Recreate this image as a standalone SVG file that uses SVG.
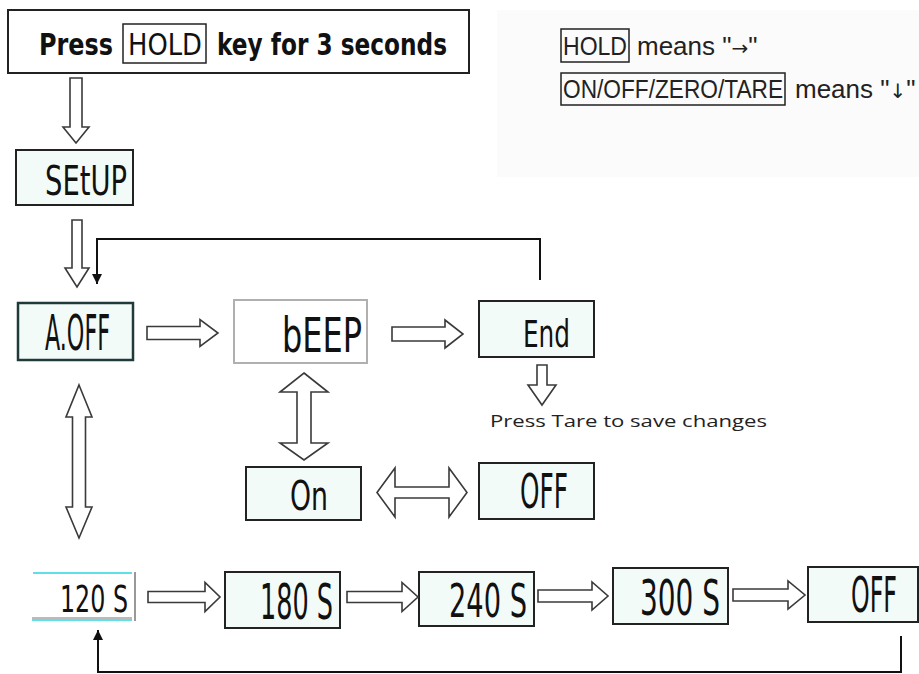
<svg xmlns="http://www.w3.org/2000/svg" width="919" height="674" viewBox="0 0 919 674">
<defs>
<style>
.box{fill:#f3fbf8;stroke:#222;stroke-width:2}
.harrow{fill:#fff;stroke:#3a3a3a;stroke-width:1.6;stroke-linejoin:miter}
.line{fill:none;stroke:#111;stroke-width:2}
.lcd{font-family:"DejaVu Sans Condensed","DejaVu Sans",sans-serif;fill:#111}
.leg{font-family:"Liberation Sans",Arial,sans-serif;font-size:26px;fill:#222}
.sym{font-family:"DejaVu Sans",sans-serif;font-size:20px;fill:#222}
.title{font-family:"DejaVu Sans",Verdana,sans-serif;font-size:30px;fill:#111}
</style>
<marker id="tri" viewBox="0 0 10 10" refX="10" refY="5" markerWidth="5" markerHeight="6" markerUnits="strokeWidth" orient="auto">
<path d="M0,0 L10,5 L0,10 Z" fill="#111"/>
</marker>
</defs>
<rect width="919" height="674" fill="#fff"/>
<rect x="497" y="10" width="422" height="167" fill="#fbfbfb"/>

<g id="title">
<rect x="8" y="10" width="461" height="63" fill="#fff" stroke="#222" stroke-width="2"/>
<rect x="123" y="24" width="83" height="39" fill="none" stroke="#222" stroke-width="1.5"/>
<text class="title" x="39" y="55" font-weight="bold" textLength="74" lengthAdjust="spacingAndGlyphs">Press</text>
<text class="title" x="128" y="55" textLength="74" lengthAdjust="spacingAndGlyphs">HOLD</text>
<text class="title" x="217" y="55" font-weight="bold" textLength="230" lengthAdjust="spacingAndGlyphs">key for 3 seconds</text>
</g>

<g id="legend">
<rect x="561" y="29" width="68" height="33" fill="none" stroke="#222" stroke-width="1.5"/>
<text class="leg" x="563" y="55" textLength="64" lengthAdjust="spacingAndGlyphs">HOLD</text>
<text class="leg" x="637" y="55">means "<tspan class="sym">→</tspan>"</text>
<rect x="561" y="73" width="224" height="32" fill="none" stroke="#222" stroke-width="1.5"/>
<text class="leg" x="563" y="98" textLength="220" lengthAdjust="spacingAndGlyphs">ON/OFF/ZERO/TARE</text>
<text class="leg" x="795" y="98">means "<tspan class="sym">↓</tspan>"</text>
</g>

<g id="setup">
<rect class="box" x="16" y="150" width="117" height="55"/>
<text class="lcd" x="45" y="195" font-size="41" textLength="82" lengthAdjust="spacingAndGlyphs">SEtUP</text>
</g>

<g id="aoff">
<rect x="18" y="303" width="115" height="57" fill="#f3fbf8" stroke="#1f3a38" stroke-width="2.5"/>
<text class="lcd" x="45" y="350" font-size="50" textLength="65" lengthAdjust="spacingAndGlyphs">A.OFF</text>
</g>

<g id="beep">
<rect x="234" y="300" width="133" height="63" fill="#fff" stroke="#b0b0b0" stroke-width="2"/>
<text class="lcd" x="282" y="352" font-size="48" textLength="80" lengthAdjust="spacingAndGlyphs">bEEP</text>
</g>

<g id="end">
<rect class="box" x="479" y="301" width="115" height="56"/>
<text class="lcd" x="523" y="347" font-size="37" textLength="47" lengthAdjust="spacingAndGlyphs">End</text>
</g>

<g id="save-note">
<text x="490" y="427" font-family="'Open Sans','DejaVu Sans',sans-serif" font-size="16" fill="#222" textLength="277" lengthAdjust="spacingAndGlyphs">Press Tare to save changes</text>
</g>

<g id="on">
<rect class="box" x="246" y="467" width="115" height="53"/>
<text class="lcd" x="290" y="510" font-size="41" textLength="38" lengthAdjust="spacingAndGlyphs">On</text>
</g>

<g id="off-beep">
<rect class="box" x="479" y="463" width="115" height="56"/>
<text class="lcd" x="520" y="508" font-size="48" textLength="48" lengthAdjust="spacingAndGlyphs">OFF</text>
</g>

<g id="t120">
<line x1="33" y1="573" x2="132" y2="573" stroke="#5fe0e8" stroke-width="2"/>
<line x1="32" y1="618" x2="132" y2="618" stroke="#777" stroke-width="1"/>
<line x1="32" y1="620" x2="132" y2="620" stroke="#5fe0e8" stroke-width="2"/>
<line x1="135" y1="572" x2="135" y2="621" stroke="#999" stroke-width="2"/>
<text class="lcd" x="60" y="612" font-size="37" textLength="68" lengthAdjust="spacingAndGlyphs">120 S</text>
</g>

<g id="t180">
<rect class="box" x="225" y="572" width="115" height="56"/>
<text class="lcd" x="260" y="619" font-size="50" textLength="73" lengthAdjust="spacingAndGlyphs">180 S</text>
</g>

<g id="t240">
<rect class="box" x="419" y="572" width="115" height="54"/>
<text class="lcd" x="449" y="617" font-size="47" textLength="78" lengthAdjust="spacingAndGlyphs">240 S</text>
</g>

<g id="t300">
<rect class="box" x="613" y="568" width="115" height="56"/>
<text class="lcd" x="640" y="615" font-size="50" textLength="80" lengthAdjust="spacingAndGlyphs">300 S</text>
</g>

<g id="off-time">
<rect class="box" x="808" y="567" width="110" height="55"/>
<text class="lcd" x="851" y="612" font-size="50" textLength="46" lengthAdjust="spacingAndGlyphs">OFF</text>
</g>

<g id="connectors">
<path class="harrow" d="M70,78 H82 V127 H89 L76,143 L63,127 H70 Z"/>
<path class="harrow" d="M72,220 H82 V268 H89 L77,287 L65,268 H72 Z"/>
<polyline class="line" points="540,280 540,239 97,239 97,284" marker-end="url(#tri)"/>
<path class="harrow" d="M147,326.5 H200 V319.5 L218,333 L200,346.5 V339.5 H147 Z"/>
<path class="harrow" d="M392,327 H445 V320 L463,334 L445,348 V341 H392 Z"/>
<path class="harrow" d="M537,365 H547 V385 H556 L542,405 L528,385 H537 Z"/>
<path class="harrow" d="M304,373 L328,392 H311 V443 H328 L304,460 L280,443 H297 V392 H280 Z"/>
<path class="harrow" d="M377,492.5 L395,468 V487 H449 V468 L467,492.5 L449,517 V498 H395 V517 Z"/>
<path class="harrow" d="M79,385 L92,417 H85.5 V507 H92 L79,538 L66,507 H72.5 V417 H66 Z"/>
<path class="harrow" d="M148,591.5 H205 V582.5 L220,597 L205,611.5 V602.5 H148 Z"/>
<path class="harrow" d="M347,591.5 H402 V582.5 L418,597 L402,611.5 V602.5 H347 Z"/>
<path class="harrow" d="M538,590 H592 V582 L608,596 L592,610 V602 H538 Z"/>
<path class="harrow" d="M733,589 H788 V581 L805,595 L788,609 V601 H733 Z"/>
<polyline class="line" points="901,636 901,672 98,672 98,630" marker-end="url(#tri)"/>
</g>
</svg>
